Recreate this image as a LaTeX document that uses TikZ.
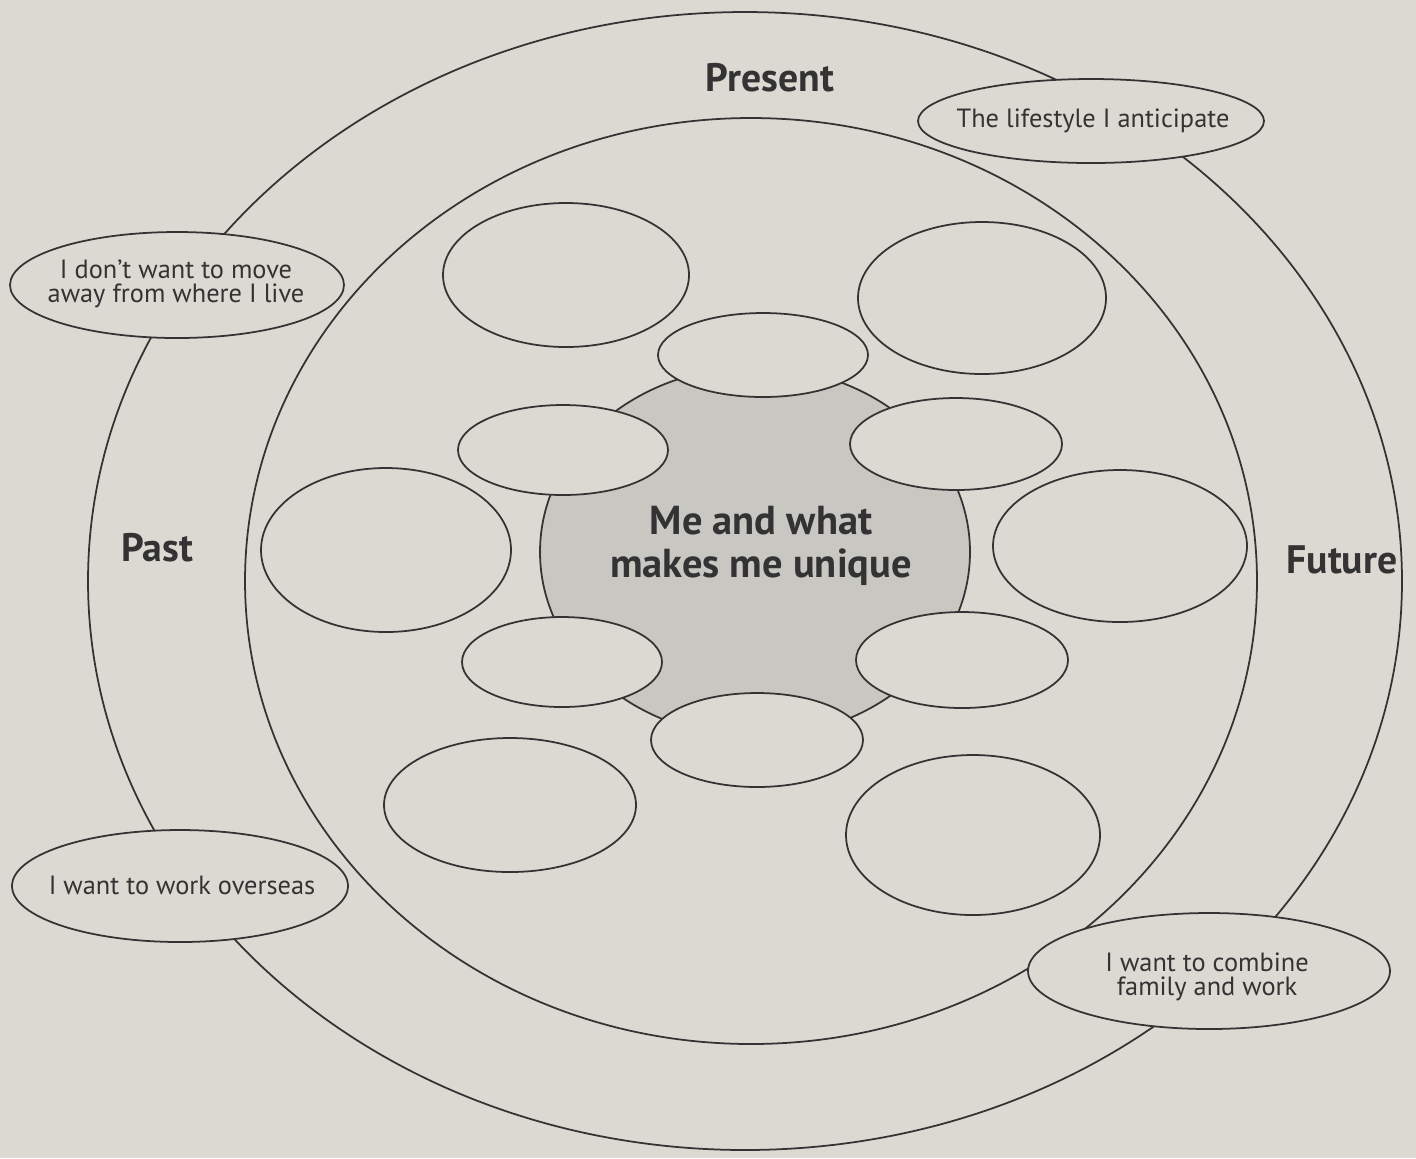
\documentclass[tikz,border=0pt]{standalone}
\usepackage{fontspec}
\setmainfont{PT Sans}
\usepackage{xcolor}
\usetikzlibrary{shapes.geometric}
\definecolor{paper}{HTML}{DCD9D2}
\definecolor{core}{HTML}{C9C7C2}
\definecolor{ink}{HTML}{333333}
\tikzstyle{ring}=[draw=ink, line width=0.5pt, ellipse, inner sep=0pt]
\tikzstyle{bubble}=[ring, fill=paper]
\tikzstyle{tagtext}=[text=ink, align=center, font=\fontsize{7.5}{7}\selectfont]
\tikzstyle{era}=[text=ink, font=\fontsize{11.3}{13}\selectfont\bfseries]
\tikzset{rad/.style 2 args={minimum width=#1*0.2mm, minimum height=#2*0.2mm}}

\begin{document}
\begin{tikzpicture}[x=0.1mm, y=-0.1mm]
  \fill[paper] (0,0) rectangle (1416,1158);
  \useasboundingbox (0,0) rectangle (1416,1158);

  % rings
  \node[bubble, rad={657}{569}] (outer) at (745,581) {};
  \node[bubble, rad={506}{463}] (inner) at (751,581) {};
  \node[ring, fill=core, rad={215}{185}] (me) at (755,552) {};

  % small bubbles round the centre
  \node[bubble, rad={105}{42}] (s1) at (763,355) {};
  \node[bubble, rad={105}{45}] (s2) at (563,450) {};
  \node[bubble, rad={106}{46}] (s3) at (956,444) {};
  \node[bubble, rad={100}{45}] (s4) at (562,662) {};
  \node[bubble, rad={106}{48}] (s5) at (962,660) {};
  \node[bubble, rad={106}{47}] (s6) at (757,740) {};

  % large bubbles
  \node[bubble, rad={123}{72}] (b1) at (566,275) {};
  \node[bubble, rad={124}{76}] (b2) at (982,298) {};
  \node[bubble, rad={125}{82}] (b3) at (386,550) {};
  \node[bubble, rad={127}{76}] (b4) at (1120,546) {};
  \node[bubble, rad={126}{67}] (b5) at (510,805) {};
  \node[bubble, rad={127}{80}] (b6) at (973,835) {};

  % labelled bubbles on the outer ring
  \node[bubble, rad={173}{42}] (lifestyle) at (1091,121) {};
  \node[bubble, rad={167}{53}] (stay) at (177,285) {};
  \node[bubble, rad={168}{56}] (abroad) at (180,886) {};
  \node[bubble, rad={181}{58}] (combine) at (1209,971) {};
  \node[tagtext] (lifestyle-t) at (1093,121) {The lifestyle I anticipate};
  \node[tagtext] (stay-t) at (176,284) {I don’t want to move\\away from where I live};
  \node[tagtext] (abroad-t) at (182,885) {I want to work overseas};
  \node[tagtext] (combine-t) at (1207,977) {I want to combine\\family and work};

  \node[era] (present) at (770,78) {Present};
  \node[era] (past) at (157,548) {Past};
  \node[era] (future) at (1342,560) {Future};
  \node[text=ink, align=center, font=\fontsize{11.5}{12.3}\selectfont\bfseries] (unique) at (761,546)
    {Me and what\\makes me unique};
\end{tikzpicture}
\end{document}
